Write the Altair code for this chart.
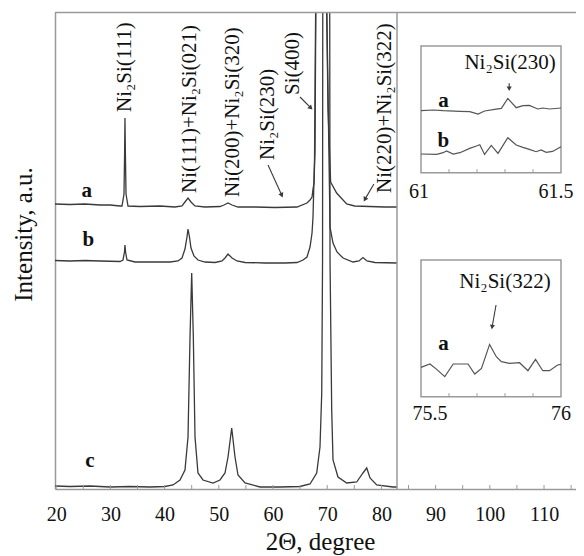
import altair as alt
import pandas as pd

# ---------------- main XRD patterns (2θ in degrees, intensity in a.u.) ----------------
A_TT = [19.78, 22.55, 25.31, 28.08, 29.93, 31.77, 32.14, 32.51, 32.62, 32.69, 32.77, 32.88, 33.25,
        35.46, 39.15, 41.92, 43.21, 43.76, 44.32, 44.87, 45.59, 47.45, 50.22, 50.96, 51.70, 52.44,
        53.54, 56.68, 60.37, 64.43, 66.27, 66.83, 67.2, 67.38, 67.57, 67.75, 68.03, 68.8, 69.59,
        70.15, 70.63, 71.74, 73.59, 75.06, 77.83, 80.6, 82.88]
A_I = [285, 284.5, 285, 284, 284, 283, 283, 295, 335, 371, 335, 295, 283,
       282.5, 283, 282, 283, 287, 291, 287, 283, 282, 282.5, 284, 286, 284,
       282, 282, 281.5, 282, 286, 289, 292, 300, 306, 339, 600, 3000, 600,
       380, 307, 296, 285, 283, 282.5, 282, 282]

B_TT = [19.78, 22.55, 25.31, 28.08, 31.77, 32.32, 32.6, 32.69, 32.80, 33.06, 34.54, 38.23, 41.0,
        42.47, 43.21, 43.76, 44.13, 44.32, 44.59, 44.87, 45.42, 46.16, 47.45, 49.3, 50.59, 51.14,
        51.7, 52.44, 53.36, 54.84, 58.52, 62.21, 64.43, 65.54, 66.27, 66.83, 67.2, 67.38, 67.66,
        68.03, 68.8, 69.59, 70.52, 71.07, 71.81, 72.92, 74.76, 75.87, 76.6, 77.34, 78.82, 82.88]
B_I = [228.5, 228, 228.5, 228, 227.5, 229, 237, 244, 237, 229, 227, 227, 227,
       228, 231, 240, 252, 260, 252, 241, 233, 229, 227, 226.5, 228, 231,
       235, 231, 228, 226.5, 226, 226, 226.5, 229, 232, 242, 256, 272, 330,
       600, 3000, 600, 262, 246, 237, 231, 227, 228, 231.5, 228, 226.5, 226]

C_TT = [19.78, 22.55, 26.24, 29.93, 33.62, 37.31, 40.07, 41.55, 42.84, 43.76, 44.32, 44.69, 45.0,
        45.3, 45.61, 46.16, 47.08, 48.93, 50.22, 51.14, 51.7, 52.38, 52.99, 53.54, 54.84, 57.6,
        61.29, 64.98, 66.83, 68.06, 68.67, 68.99, 69.14, 69.23, 69.79, 70.39, 70.52, 70.83, 71.07,
        71.99, 73.6, 75.44, 76.6, 77.29, 77.9, 79.13, 82.14, 82.88]
C_I = [3, 2.5, 3, 2, 2.5, 2, 2.5, 4, 9, 19, 52, 152, 216,
       152, 52, 16, 9, 6, 9, 16, 32, 61, 32, 14, 6, 2,
       2, 2.5, 5, 16, 42, 96, 229, 800, 3000, 800, 229, 79, 29,
       12, 6, 7, 16, 21, 11, 4, 2, 2]

SAMPLE_NAMES = ["a", "b", "c"]
SAMPLE_TT = [25.63, 25.92, 26.24]
SAMPLE_I = [292.5, 243.3, 22.3]

PEAK_LABELS = ["Ni₂Si(111)", "Ni(111)+Ni₂Si(021)", "Ni(200)+Ni₂Si(320)",
               "Ni₂Si(230)", "Si(400)", "Ni(220)+Ni₂Si(322)"]
PEAK_LABEL_TT = [32.69, 44.69, 52.62, 59.08, 63.69, 80.66]
PEAK_LABEL_I = [377, 296, 292, 329, 394, 296]

ARROW_TT = [59.08, 64.98, 78.62]
ARROW_I = [324, 392, 305]
ARROW_TT_END = [61.62, 66.98, 76.95]
ARROW_I_END = [293.7, 381.1, 289.6]
ARROW_ANGLE = [155.6, 135, 209.1]

X_TICKS = list(range(20, 120, 5))
X_LABELS = list(range(20, 120, 10))
DIVIDER_TT = [82.88]
X_DOMAIN = [19.78, 115.90]
Y_DOMAIN = [0, 477]

# ---------------- inset 1: Ni2Si(230) ----------------
IN1_A_TT = [61.0, 61.044, 61.079, 61.139, 61.174, 61.204, 61.227, 61.263, 61.287, 61.310,
            61.340, 61.364, 61.387, 61.417, 61.435, 61.459, 61.5]
IN1_A_I = [62, 62.7, 62, 61.3, 61, 58.7, 61.7, 63.3, 64.3, 74.3, 65, 67, 67.3, 63.7, 64.7, 63.7, 64.7]
IN1_B_TT = [61.0, 61.056, 61.079, 61.091, 61.115, 61.139, 61.174, 61.198, 61.210, 61.227, 61.251,
            61.275, 61.310, 61.340, 61.364, 61.387, 61.411, 61.429, 61.447, 61.470, 61.5]
IN1_B_I = [18.7, 18.3, 20, 21.7, 18.7, 20, 24.3, 26.7, 28, 18.3, 27.3,
           19.3, 35, 27.7, 25.3, 23.3, 21, 22.7, 20.3, 21.3, 26]
IN1_RANGE = [61.0, 61.5]
IN1_HEIGHT = 126.7
IN1_TICKS = [61.1, 61.2, 61.3, 61.4]
IN1_TICKLABELS = ["61", "61.5"]
IN1_TICKLABEL_TT = [60.993, 61.482]
IN1_TICKLABEL_I = [-25.6, -25.6]
IN1_TEXT = ["Ni₂Si(230)", "a", "b"]
IN1_TEXT_TT = [61.318, 61.08, 61.08]
IN1_TEXT_I = [103.4, 66, 25.4]
IN1_ARROW = [61.315, 89.4, 61.315, 84.0, 180]
IN1_X_DOMAIN = [59.69286, 61.55357]
IN1_Y_DOMAIN = [-316.3, 160.7]

# ---------------- inset 2: Ni2Si(322) ----------------
IN2_A_TT = [75.5, 75.532, 75.556, 75.585, 75.615, 75.650, 75.668, 75.692, 75.716, 75.745, 75.769,
            75.787, 75.816, 75.852, 75.882, 75.909, 75.935, 75.959, 75.988, 76.0]
IN2_A_I = [29.3, 32.7, 27.3, 20, 32.7, 32.7, 32.7, 22.7, 28.3, 52.3, 40,
           35, 33.3, 34, 26, 37.3, 26, 26, 31.7, 32.3]
IN2_RANGE = [75.5, 76.0]
IN2_HEIGHT = 136.7
IN2_TICKS = [75.6, 75.7, 75.8, 75.9]
IN2_TICKLABELS = ["75.5", "76"]
IN2_TICKLABEL_TT = [75.532, 76.0]
IN2_TICKLABEL_I = [-23.3, -23.3]
IN2_TEXT = ["Ni₂Si(322)", "a"]
IN2_TEXT_TT = [75.8, 75.58]
IN2_TEXT_I = [109, 46.7]
IN2_ARROW = [75.768, 91.7, 75.754, 69.7, 189.8]
IN2_X_DOMAIN = [74.19286, 76.05357]
IN2_Y_DOMAIN = [-92.3, 384.7]

# ---------------- styling ----------------
FONT = "Liberation Serif"
LINE = "#3a3a3a"
FRAME = "#9a9a9a"
TXT = "#111111"
W, H = 521, 477

xs = alt.Scale(domain=X_DOMAIN, nice=False, zero=False)
ys = alt.Scale(domain=Y_DOMAIN, nice=False, zero=False)

xaxis = alt.Axis(values=X_LABELS, title="2Θ, degree", grid=False, ticks=True, tickSize=0,
                 labelFont=FONT, labelFontSize=20, labelColor=TXT, labelPadding=31,
                 labelBaseline="alphabetic", labelFlush=False, labelOverlap=False,
                 domainColor=FRAME, domainWidth=1.5,
                 titleFont=FONT, titleFontSize=25, titleFontWeight="normal", titleColor=TXT,
                 titleBaseline="alphabetic", titleY=60, titleX=265)
yaxis = alt.Axis(title="Intensity, a.u.", labels=False, ticks=False, grid=False,
                 domainColor=FRAME, domainWidth=1.5,
                 titleFont=FONT, titleFontSize=25, titleFontWeight="normal", titleColor=TXT,
                 titleX=-24, titleY=222, titleAngle=270, titleAlign="center",
                 titleBaseline="alphabetic")


def MX(f="tt"):
    return alt.X(f + ":Q", scale=xs, axis=xaxis)


def MY(f="I"):
    return alt.Y(f + ":Q", scale=ys, axis=yaxis)


curves = pd.DataFrame({
    "tt": A_TT + B_TT + C_TT,
    "I": A_I + B_I + C_I,
    "s": ["a"] * len(A_TT) + ["b"] * len(B_TT) + ["c"] * len(C_TT),
})
curve_layer = alt.Chart(curves).mark_line(color=LINE, strokeWidth=1.3, clip=True).encode(
    x=MX(), y=MY(), detail="s:N")

tick_layer = alt.Chart(pd.DataFrame({"tt": X_TICKS})).mark_rule(color=FRAME, strokeWidth=1).encode(
    x=MX(), y=alt.value(H), y2=alt.value(H - 4))

top_layer = alt.Chart(pd.DataFrame({"tt": [X_DOMAIN[0]]})).mark_rule(color=FRAME, strokeWidth=1.5).encode(
    x=alt.value(0), x2=alt.value(W), y=alt.value(0.5))

divider_layer = alt.Chart(pd.DataFrame({"tt": DIVIDER_TT})).mark_rule(color=FRAME, strokeWidth=1.5).encode(
    x=MX(), y=alt.value(0), y2=alt.value(H))

labels_df = pd.DataFrame({"tt": PEAK_LABEL_TT, "I": PEAK_LABEL_I, "label": PEAK_LABELS})
label_layer = alt.Chart(labels_df).mark_text(angle=270, align="left", baseline="middle", font=FONT,
                                             fontSize=21, color=TXT).encode(
    x=MX(), y=MY(), text="label:N")

arrows_df = pd.DataFrame({"tt": ARROW_TT, "I": ARROW_I, "tt2": ARROW_TT_END, "I2": ARROW_I_END,
                          "ang": ARROW_ANGLE})
arrow_layer = alt.Chart(arrows_df).mark_rule(color=LINE, strokeWidth=1.1).encode(
    x=MX(), y=MY(), x2="tt2:Q", y2="I2:Q")
head_df = pd.DataFrame({"tt": ARROW_TT_END, "I": ARROW_I_END, "ang": ARROW_ANGLE})
head_layer = alt.Chart(head_df).mark_point(shape="triangle-up", filled=True, size=28, color=LINE,
                                           opacity=1).encode(
    x=MX(), y=MY(), angle=alt.Angle("ang:Q", scale=None))

letters_df = pd.DataFrame({"tt": SAMPLE_TT, "I": SAMPLE_I, "label": SAMPLE_NAMES})
letter_layer = alt.Chart(letters_df).mark_text(font=FONT, fontSize=21, fontWeight="bold", color=TXT,
                                               align="center", baseline="alphabetic").encode(
    x=MX(), y=MY(), text="label:N")

main = alt.layer(curve_layer, tick_layer, top_layer, divider_layer, label_layer, arrow_layer,
                 head_layer, letter_layer)


def make_inset(xdom, ydom, rng, height, series, ticks, tl, tl_tt, tl_i, txt, txt_tt, txt_i, arrow):
    sx = alt.Scale(domain=xdom, nice=False, zero=False)
    sy = alt.Scale(domain=ydom, nice=False, zero=False)

    def IX(f="tt"):
        return alt.X(f + ":Q", scale=sx, axis=None)

    def IY(f="I"):
        return alt.Y(f + ":Q", scale=sy, axis=None)

    frame = alt.Chart(pd.DataFrame({"tt": [rng[0]], "tt2": [rng[1]], "I": [0], "I2": [height]})).mark_rect(
        fillOpacity=0, stroke=FRAME, strokeWidth=1.5).encode(x=IX(), x2="tt2:Q", y=IY(), y2="I2:Q")
    rows = []
    for name, tts, ins in series:
        for t, v in zip(tts, ins):
            rows.append({"tt": t, "I": v, "s": name})
    lines = alt.Chart(pd.DataFrame(rows)).mark_line(color="#555555", strokeWidth=1.2).encode(
        x=IX(), y=IY(), detail="s:N")
    tk = alt.Chart(pd.DataFrame({"tt": ticks, "I": [0] * len(ticks), "I2": [3.5] * len(ticks)})).mark_rule(
        color=FRAME, strokeWidth=1).encode(x=IX(), y=IY(), y2="I2:Q")
    tkl = alt.Chart(pd.DataFrame({"tt": tl_tt, "I": tl_i, "label": tl})).mark_text(
        font=FONT, fontSize=20, color=TXT, align="center", baseline="alphabetic").encode(
        x=IX(), y=IY(), text="label:N")
    tdf = pd.DataFrame({"tt": txt_tt, "I": txt_i, "label": txt})
    title = alt.Chart(tdf.iloc[:1]).mark_text(font=FONT, fontSize=21, color=TXT, align="center",
                                              baseline="alphabetic").encode(x=IX(), y=IY(), text="label:N")
    lets = alt.Chart(tdf.iloc[1:]).mark_text(font=FONT, fontSize=21, fontWeight="bold", color=TXT,
                                             align="center", baseline="alphabetic").encode(
        x=IX(), y=IY(), text="label:N")
    adf = pd.DataFrame({"tt": [arrow[0]], "I": [arrow[1]], "tt2": [arrow[2]], "I2": [arrow[3]]})
    arr = alt.Chart(adf).mark_rule(color=LINE, strokeWidth=1.1).encode(
        x=IX(), y=IY(), x2="tt2:Q", y2="I2:Q")
    hdf = pd.DataFrame({"tt": [arrow[2]], "I": [arrow[3]], "ang": [arrow[4]]})
    head = alt.Chart(hdf).mark_point(shape="triangle-up", filled=True, size=26, color=LINE, opacity=1).encode(
        x=IX(), y=IY(), angle=alt.Angle("ang:Q", scale=None))
    return alt.layer(frame, lines, tk, tkl, title, lets, arr, head)


inset1 = make_inset(IN1_X_DOMAIN, IN1_Y_DOMAIN, IN1_RANGE, IN1_HEIGHT,
                    [("a", IN1_A_TT, IN1_A_I), ("b", IN1_B_TT, IN1_B_I)],
                    IN1_TICKS, IN1_TICKLABELS, IN1_TICKLABEL_TT, IN1_TICKLABEL_I,
                    IN1_TEXT, IN1_TEXT_TT, IN1_TEXT_I, IN1_ARROW)
inset2 = make_inset(IN2_X_DOMAIN, IN2_Y_DOMAIN, IN2_RANGE, IN2_HEIGHT,
                    [("a", IN2_A_TT, IN2_A_I)],
                    IN2_TICKS, IN2_TICKLABELS, IN2_TICKLABEL_TT, IN2_TICKLABEL_I,
                    IN2_TEXT, IN2_TEXT_TT, IN2_TEXT_I, IN2_ARROW)

chart = alt.layer(main, inset1, inset2).resolve_scale(
    x="independent", y="independent"
).properties(
    width=W, height=H,
    autosize=alt.AutoSizeParams(type="none"),
    padding={"left": 47, "top": 4, "right": 0, "bottom": 67},
    background="white",
).configure_view(stroke=None).configure_axis(grid=False)

chart.save("out.html", embed_options={"renderer": "svg", "actions": False})
